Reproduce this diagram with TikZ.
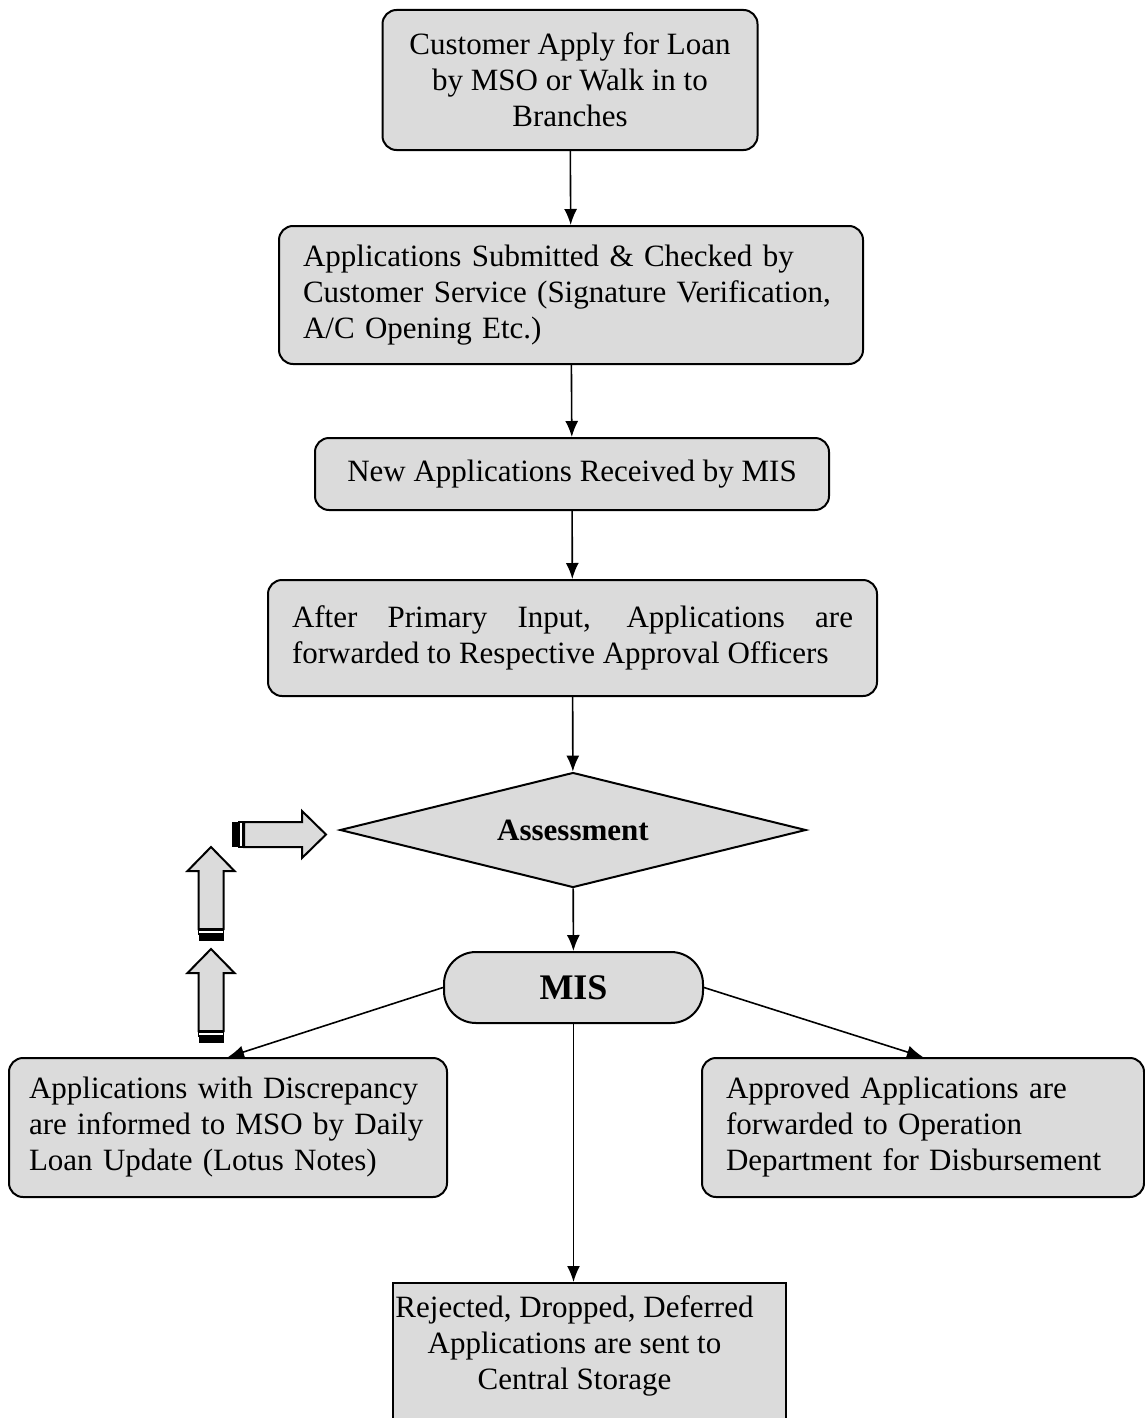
\documentclass[tikz,border=0pt]{standalone}
\usepackage{fontspec}
\setmainfont{Liberation Serif}
\usetikzlibrary{arrows.meta,shapes.geometric}

\definecolor{boxgray}{gray}{0.86}
\tikzset{
  box/.style={draw,line width=1pt,fill=boxgray,rounded corners=7pt,inner xsep=12pt,
    font=\fontsize{15.5}{18}\selectfont},
  decision/.style={diamond,draw,line width=1pt,fill=boxgray,shape aspect=4,minimum width=233pt,
    minimum height=57.5pt,inner sep=0pt,font=\fontsize{15.5}{18}\selectfont\bfseries},
  term/.style={draw,line width=1pt,fill=boxgray,rounded corners=16pt,minimum width=129.5pt,
    minimum height=35.5pt,font=\fontsize{18}{20}\selectfont\bfseries}
}

\begin{document}
\begin{tikzpicture}[x=0.5pt,y=-0.5pt,->,>={Latex[length=8pt,width=6.5pt]},line width=0.8pt]
  \useasboundingbox (0,0) rectangle (1145,1418);
  \clip (0,0) rectangle (1145,1418);
  \node[box,align=center,minimum width=187.5pt,minimum height=70pt] (apply) at (570,80)
    {Customer Apply for Loan\\by MSO or Walk in to\\Branches};
  \node[box,align=left,text width=268pt,minimum height=69pt] (submit) at (571,295)
    {Applications Submitted \& Checked by\\Customer Service (Signature Verification,\\A/C Opening Etc.)};
  \node[box,minimum width=257pt,minimum height=36pt] (received) at (572,474)
    {New Applications Received by MIS};
  \node[box,align=justify,text width=280.5pt,minimum height=58pt] (forward) at (572.5,638)
    {After Primary Input, Applications are\linebreak forwarded to Respective Approval Officers};
  \node[decision] (assess) at (573,830) {Assessment};
  \node[term] (mis) at (573.5,987.5) {MIS};
  \node[box,align=left,inner xsep=10pt,text width=199pt,minimum height=69.5pt] (discrep) at (228,1127.5)
    {Applications with Discrepancy\\are informed to MSO by Daily\\Loan Update (Lotus Notes)};
  \node[box,align=left,text width=197pt,minimum height=69.5pt] (approved) at (923,1127.5)
    {Approved Applications are\\forwarded to Operation\\Department for Disbursement};
  \node[box,sharp corners,minimum width=196.5pt,minimum height=76pt,anchor=north] (storage) at (589.5,1282) {};
  \node[font=\fontsize{15.5}{18}\selectfont,align=center] (storagetext) at (574.5,1346)
    {Rejected, Dropped, Deferred\\Applications are sent to\\Central Storage};

  \path (apply) edge (submit)
  (submit) edge (received)
  (received) edge (forward)
  (forward) edge (assess)
  (assess) edge (mis)
  (mis.west) edge (discrep.north)
  (mis.east) edge (approved.north)
  (mis.south) edge (mis.south |- storage.north);

  % block arrows back to assessment
  \foreach \ax/\ay/\ang in {232/834.5/0, 211/1043/90, 211/941/90}{
    \begin{scope}[shift={(\ax,\ay)},rotate=\ang,-]
      \draw[line width=1pt,fill=boxgray] (12,-12.5) -- (70,-12.5) -- (70,-23.5) -- (94,0)
        -- (70,23.5) -- (70,12.5) -- (12,12.5) -- cycle;
      \fill (0,-12.5) rectangle (7,12.5);
      \draw[line width=0.8pt,fill=white] (7,-12.5) rectangle (10.5,12.5);
    \end{scope}
  }
\end{tikzpicture}
\end{document}
